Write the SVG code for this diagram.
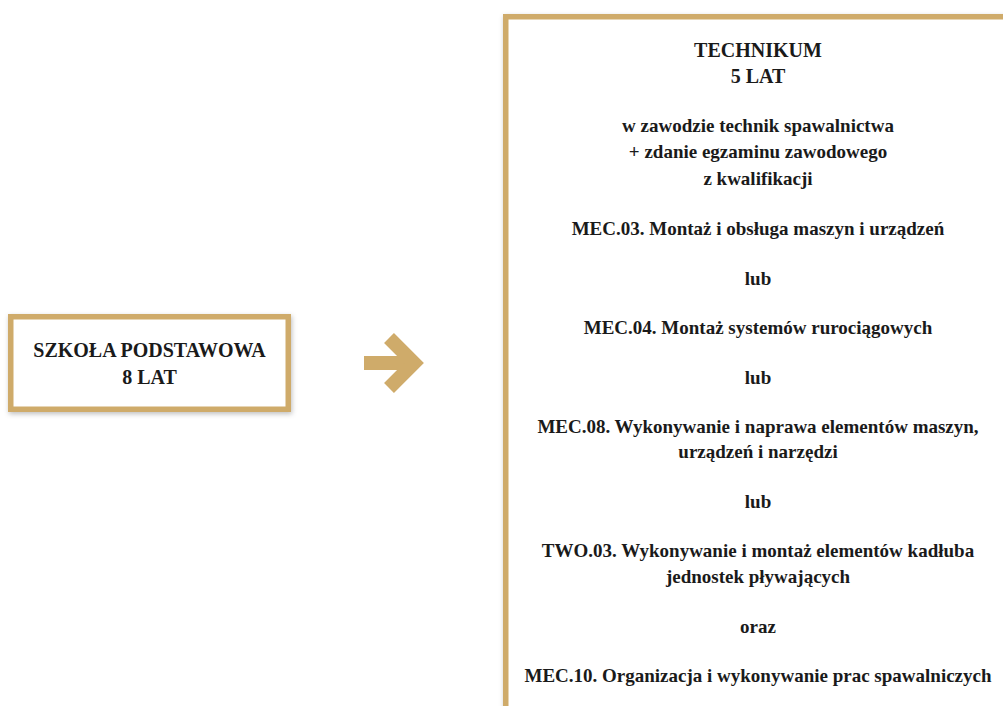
<svg xmlns="http://www.w3.org/2000/svg" width="1003" height="706" viewBox="0 0 1003 706">
  <style>
    .box { fill: #ffffff; stroke: #cfab6a; stroke-width: 5.5; }
    .t { font-family: 'Liberation Serif', 'DejaVu Serif', serif; font-weight: 700; font-size: 19px; fill: #1a1a1a; text-anchor: middle; }
    .cap { font-size: 20px; }
  </style>
  <defs>
    <filter id="sh" x="-10%" y="-10%" width="120%" height="120%">
      <feDropShadow dx="1" dy="2" stdDeviation="2.5" flood-color="#000000" flood-opacity="0.25"/>
    </filter>
  </defs>
  <rect width="1003" height="706" fill="#ffffff"/>

  <g id="szkola">
    <rect class="box" x="10.75" y="316.75" width="277.5" height="92.5" filter="url(#sh)"/>
    <text class="t cap" x="149.5" y="357" font-family="Liberation Serif, serif">SZKOŁA PODSTAWOWA</text>
    <text class="t cap" x="149.5" y="384" font-family="Liberation Serif, serif">8 LAT</text>
  </g>

  <g id="connectors">
    <rect x="364" y="356" width="46" height="14" fill="#cfab6a"/>
    <polyline points="389,338 414,363 389,388" fill="none" stroke="#cfab6a" stroke-width="14" stroke-linejoin="miter" stroke-miterlimit="4"/>
  </g>

  <g id="technikum">
    <rect class="box" x="505.75" y="16.75" width="520" height="720" filter="url(#sh)"/>
    <text class="t cap" x="758" y="57">TECHNIKUM</text>
    <text class="t cap" x="758" y="83">5 LAT</text>
    <text class="t" x="758" y="132">w zawodzie technik spawalnictwa</text>
    <text class="t" x="758" y="158">+ zdanie egzaminu zawodowego</text>
    <text class="t" x="758" y="185">z kwalifikacji</text>
    <text class="t" x="758" y="235">MEC.03. Montaż i obsługa maszyn i urządzeń</text>
    <text class="t" x="758" y="285">lub</text>
    <text class="t" x="758" y="334">MEC.04. Montaż systemów rurociągowych</text>
    <text class="t" x="758" y="384">lub</text>
    <text class="t" x="758" y="433">MEC.08. Wykonywanie i naprawa elementów maszyn,</text>
    <text class="t" x="758" y="458">urządzeń i narzędzi</text>
    <text class="t" x="758" y="508">lub</text>
    <text class="t" x="758" y="557">TWO.03. Wykonywanie i montaż elementów kadłuba</text>
    <text class="t" x="758" y="583">jednostek pływających</text>
    <text class="t" x="758" y="633">oraz</text>
    <text class="t" x="758" y="682">MEC.10. Organizacja i wykonywanie prac spawalniczych</text>
  </g>
</svg>
